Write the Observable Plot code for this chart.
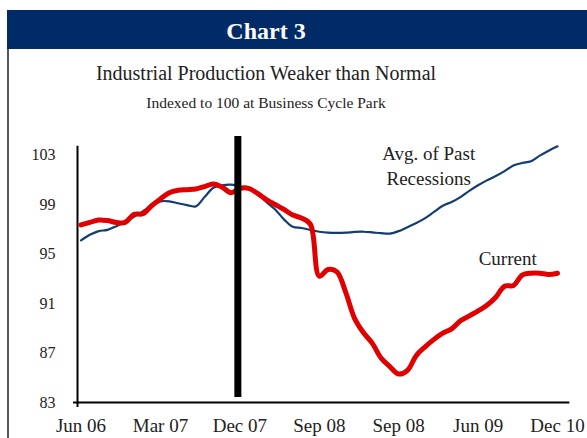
<!DOCTYPE html>
<html><head><meta charset="utf-8">
<script src="https://cdn.jsdelivr.net/npm/d3@7"></script>
<script src="https://cdn.jsdelivr.net/npm/@observablehq/plot@0.6"></script>
<style>
body{margin:0;background:#fff;width:587px;height:438px;overflow:hidden;position:relative;font-family:"Liberation Serif",serif;}
#bar{position:absolute;left:7px;top:10px;width:580px;height:39px;background:#002b66;}
#border{position:absolute;left:7px;top:49px;width:1.5px;height:389px;background:#555;}
.t{position:absolute;left:0;width:532px;text-align:center;color:#222;white-space:nowrap;line-height:1;}
#h{top:19px;color:#fff;font-weight:bold;font-size:24px;}
#title{top:63px;font-size:20px;}
#sub{top:95px;font-size:15.5px;}
#chart{position:absolute;left:0;top:120px;}
</style></head>
<body>
<div id="bar"></div><div id="border"></div>
<div class="t" id="h">Chart 3</div>
<div class="t" id="title">Industrial Production Weaker than Normal</div>
<div class="t" id="sub">Indexed to 100 at Business Cycle Park</div>
<div id="chart"></div>
<script>
// monthly index 0 = Jun 06 ... 54 = Dec 10 (as labelled)
const months = d3.range(55);
const avgPast = [96.1,96.55,96.85,96.95,97.25,97.6,98.0,98.45,98.9,99.25,
  99.26,99.1,98.95,98.85,99.6,100.35,100.55,100.6,100.45,100.3,
  99.9,99.2,98.6,97.8,97.2,97.1,96.95,96.8,96.72,96.7,
  96.72,96.78,96.8,96.75,96.68,96.65,96.85,97.17,97.5,97.9,
  98.4,98.9,99.2,99.6,100.1,100.55,100.95,101.3,101.7,102.15,
  102.35,102.5,102.95,103.35,103.7];
const current = [97.35,97.55,97.75,97.7,97.55,97.55,98.2,98.25,98.9,99.45,
  99.95,100.15,100.2,100.25,100.45,100.65,100.4,99.95,100.3,100.3,
  99.9,99.4,99.0,98.6,98.15,97.9,97.4,93.2,93.75,93.55,
  91.9,89.8,88.65,87.8,86.6,85.9,85.3,85.6,86.8,87.5,
  88.1,88.6,88.95,89.6,90.0,90.4,90.85,91.5,92.4,92.45,
  93.3,93.45,93.45,93.35,93.45];
const xTickIdx = [0,9,18,27,36,45,54];
const xTickLabels = ["Jun 06","Mar 07","Dec 07","Sep 08","Sep 08","Jun 09","Dec 10"];
const yTicks = [83,87,91,95,99,103];
const peakMonth = 18; // Dec 07 business cycle peak
const annoText = ["Avg. of Past\nRecessions","Current"];
const annoX = [39.4,48.35];
const annoY = [102.2,94.76];

const data = months.map((m,i)=>({m, avg:avgPast[i], cur:current[i]}));
const annos = annoText.map((t,i)=>({t, x:annoX[i], y:annoY[i]}));

const chart = Plot.plot({
  width:587, height:318,
  marginLeft:77, marginRight:30, marginTop:34.5, marginBottom:36,
  x:{domain:[-0.4,54], axis:null},
  y:{domain:[83,103], axis:null},
  style:{fontFamily:"Liberation Serif, serif", color:"#222", background:"transparent", overflow:"visible"},
  marks:[
    Plot.axisY(yTicks,{tickSize:0, tickPadding:22, fontSize:16, fill:"#222"}),
    Plot.axisX(xTickIdx,{tickSize:0, tickPadding:16, fontSize:19, fill:"#222",
      tickFormat:d=>xTickLabels[xTickIdx.indexOf(d)]}),
    Plot.ruleX([-0.4],{y1:82.6, y2:103.7, stroke:"#000", strokeWidth:2}),
    Plot.ruleY([83],{x1:-0.85, x2:55.4, stroke:"#000", strokeWidth:2}),
    Plot.line(data,{x:"m", y:"avg", stroke:"#123d73", strokeWidth:2.2, curve:"catmull-rom"}),
    Plot.line(data,{x:"m", y:"cur", stroke:"#e00000", strokeWidth:5, curve:"catmull-rom"}),
    Plot.ruleX([peakMonth],{y1:83.4, y2:104.5, stroke:"#000", strokeWidth:7, dx:-2}),
    Plot.text(annos,{x:"x", y:"y", text:"t", fontSize:19, lineHeight:1.3, fill:"#222", textAnchor:"middle"})
  ]
});
document.getElementById("chart").appendChild(chart);
</script>
</body></html>
